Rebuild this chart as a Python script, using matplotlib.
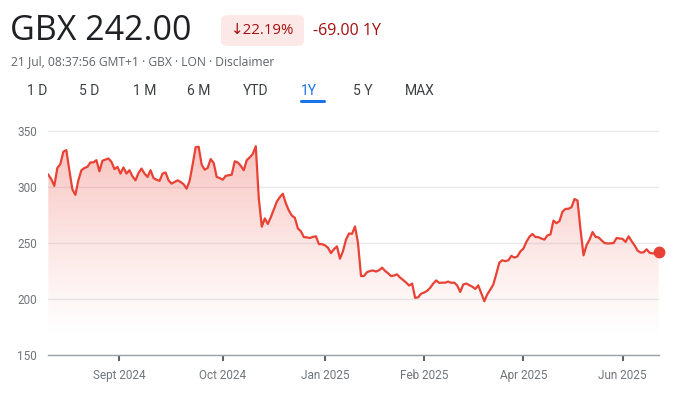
import numpy as np
import matplotlib
matplotlib.use('Agg')
import matplotlib.pyplot as plt
from matplotlib.patches import FancyBboxPatch, PathPatch

plt.rcParams['font.family'] = ['Roboto', 'DejaVu Sans']

prices = [
    311, 307, 301, 317, 320.5, 331.5, 333, 315, 298, 293,
    306, 315, 317, 318, 322, 322, 324, 314, 323.5, 324.5,
    325.5, 322.5, 316, 318, 312, 317.5, 312, 315, 309.5, 306,
    312.5, 316.5, 312, 309, 315, 308, 306.5, 305.5, 312, 313,
    306, 303, 304.5, 306, 304.5, 302.5, 298.5, 305.5, 320, 335.5,
    336, 320, 315.5, 317, 325, 321.5, 309, 308, 306.5, 310,
    310.5, 311, 323, 322, 319, 315, 324, 326.5, 329.5, 336.5,
    290, 264.6, 272, 267, 273, 280, 287, 291, 294, 285.5,
    279, 274.5, 272.5, 263, 260.5, 255.3, 255, 254.5, 255.5, 256,
    249, 249, 248, 245.8, 241, 244.5, 247, 236, 242.7, 253,
    258.5, 258.2, 264.8, 250, 220.5, 220.6, 224, 225, 225.5, 224.5,
    225.7, 228, 225.1, 223, 220.5, 221, 222, 219.1, 217, 214.7,
    212, 213.8, 201, 201.5, 204.8, 205.8, 207.3, 210, 213.7, 216.6,
    214.4, 214.6, 214.6, 215.6, 214.4, 214.7, 212, 206.3, 213, 213.8,
    212.4, 211, 209, 212.2, 205, 198, 204.2, 208.4, 213, 222.5,
    232.5, 234.6, 233.8, 234.6, 238.5, 237, 238, 242.5, 245, 251,
    255.6, 258.1, 255.4, 255.2, 254, 253, 256.8, 257.7, 270, 267.7,
    269.5, 278, 280.5, 280.6, 282, 289.3, 287.9, 262, 239, 248,
    253, 259.8, 255.5, 255, 252.4, 250, 249.6, 249.7, 250, 254.5,
    254, 253.6, 251, 256, 251.6, 247.8, 243.1, 241.5, 241.7, 244.4,
    241.2, 240.7, 241.3, 242,
]
x_tick_pos = [23.5, 58, 92, 125, 158, 191]
x_tick_labels = ['Sept 2024', 'Oct 2024', 'Jan 2025', 'Feb 2025', 'Apr 2025', 'Jun 2025']
y_ticks = [150, 200, 250, 300, 350]
tabs = ['1 D', '5 D', '1 M', '6 M', 'YTD', '1Y', '5 Y', 'MAX']
tab_x = [27, 79, 133, 187, 243, 301, 353, 405]

RED = '#e94235'
W, H = 680, 394

fig = plt.figure(figsize=(W / 100, H / 100), dpi=100)

# Achse: 150 bei y=355 px, 350 bei y=131 px
ax = fig.add_axes([48.3 / W, 1 - 355 / H, 610.4 / W, 226.2 / H])
x = np.arange(len(prices))

# Verlauf unter der Linie
poly = ax.fill_between(x, prices, 150, color='none', lw=0)
n = 256
vals = np.linspace(352, 150, n)
alpha = np.clip((vals - 165) / (345 - 165), 0, 1) ** 1.2 * 0.33
rgba = np.zeros((n, 1, 4))
rgba[..., 0], rgba[..., 1], rgba[..., 2] = 0.914, 0.259, 0.208
rgba[..., 3] = alpha[:, None]
img = ax.imshow(rgba, extent=[0, len(prices) - 1, 150, 352], aspect='auto',
                origin='upper', interpolation='bilinear', zorder=1)
clip = PathPatch(poly.get_paths()[0], transform=ax.transData,
                 facecolor='none', edgecolor='none')
ax.add_patch(clip)
img.set_clip_path(clip)

ax.plot(x, prices, color=RED, lw=1.6, zorder=3, solid_joinstyle='round')
ax.plot(x[-1], prices[-1], 'o', color=RED, ms=7.5, zorder=4, clip_on=False)

ax.set_xlim(0, len(prices) - 1)
ax.set_ylim(150, 352)
ax.set_yticks(y_ticks)
ax.set_xticks(x_tick_pos)
ax.set_xticklabels(x_tick_labels)
ax.grid(axis='y', color='#e8eaed', lw=1)
ax.set_axisbelow(True)
for s in ['top', 'right', 'left']:
    ax.spines[s].set_visible(False)
ax.spines['bottom'].set_color('#9aa0a6')
ax.spines['bottom'].set_linewidth(1)
ax.tick_params(axis='y', length=0, pad=8, labelsize=8.5, labelcolor='#70757a')
ax.tick_params(axis='x', length=4, width=1.5, color='#5f6368', pad=6,
               labelsize=8.5, labelcolor='#70757a')

# Kopfzeile
def px(xp, yp):
    return xp / W, 1 - yp / H

head = ['Open Sans', 'DejaVu Sans']
fig.text(*px(10, 31), 'GBX 242.00', fontsize=24.5, color='#202124', va='center',
         family=head)
pill = FancyBboxPatch(px(221, 46), 83 / W, 31 / H,
                      boxstyle='round,pad=0,rounding_size=0.012',
                      transform=fig.transFigure, facecolor='#fce8e6',
                      edgecolor='none')
fig.patches.append(pill)
fig.text(*px(231, 31), '↓22.19%', fontsize=10.8, color='#a50e0e', va='center',
         family=head)
fig.text(*px(313, 31), '-69.00 1Y', fontsize=11.5, color='#a50e0e', va='center',
         family=head)
fig.text(*px(11, 62), '21 Jul, 08:37:56 GMT+1 · GBX · LON · Disclaimer',
         fontsize=8.7, color='#5f6368', va='center', family=head)

for t, tx in zip(tabs, tab_x):
    c = '#1a73e8' if t == '1Y' else '#3c4043'
    fig.text(*px(tx, 91), t, fontsize=10, color=c, va='center')
fig.add_artist(plt.Line2D([301 / W, 324 / W], [1 - 101 / H] * 2,
                          color='#1a73e8', lw=2.2, solid_capstyle='round',
                          transform=fig.transFigure))

fig.savefig('out.png', dpi=100)
